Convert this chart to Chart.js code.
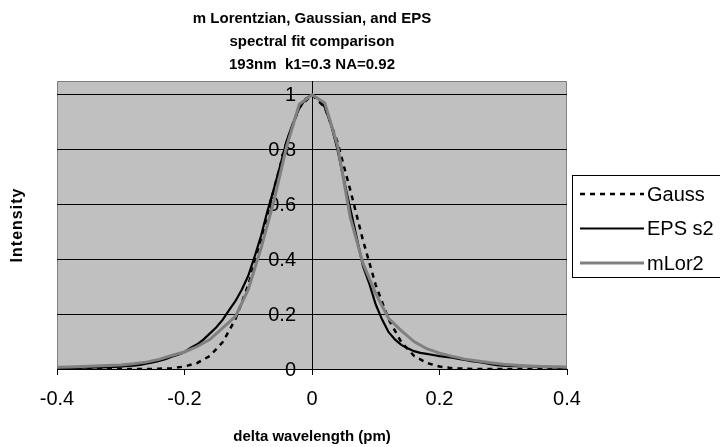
<!DOCTYPE html>
<html>
<head>
<meta charset="utf-8">
<script src="https://cdn.jsdelivr.net/npm/chart.js@4/dist/chart.umd.min.js"></script>
<style>
  html, body { margin: 0; padding: 0; background: #fff; }
  #wrap { width: 720px; height: 447px; position: relative; }
</style>
</head>
<body>
<div id="wrap"><canvas id="c" width="720" height="447"></canvas></div>
<script>
// ---- data ----
const titleLines = ["m Lorentzian, Gaussian, and EPS", "spectral fit comparison", "193nm  k1=0.3 NA=0.92"];
const xTitle = "delta wavelength (pm)";
const yTitle = "Intensity";
const seriesNames = ["Gauss", "EPS s2", "mLor2"];

const xFit = [-0.40,-0.38,-0.36,-0.34,-0.32,-0.30,-0.28,-0.26,-0.24,-0.22,-0.20,-0.18,-0.16,-0.14,-0.12,-0.10,-0.08,-0.06,-0.04,-0.02,0.00,
              0.02,0.04,0.06,0.08,0.10,0.12,0.14,0.16,0.18,0.20,0.22,0.24,0.26,0.28,0.30,0.32,0.34,0.36,0.38,0.40];
const gauss = [0,0,0,0,0,0,0,0,0.001,0.003,0.009,0.022,0.048,0.098,0.182,0.306,0.469,0.653,0.827,0.954,1.0,
               0.954,0.827,0.653,0.469,0.306,0.182,0.098,0.048,0.022,0.009,0.003,0.001,0,0,0,0,0,0,0,0];
const mLor2 = [0.006,0.007,0.009,0.011,0.013,0.015,0.019,0.025,0.035,0.049,0.062,0.082,0.108,0.150,0.192,0.290,0.440,0.610,0.810,0.965,1.0,
               0.970,0.815,0.553,0.385,0.275,0.185,0.140,0.100,0.074,0.058,0.046,0.036,0.029,0.023,0.017,0.014,0.011,0.009,0.008,0.007];

const xEps = [-0.40,-0.39,-0.38,-0.37,-0.36,-0.35,-0.34,-0.33,-0.32,-0.31,-0.30,-0.29,-0.28,-0.27,-0.26,-0.25,-0.24,-0.23,-0.22,-0.21,
              -0.20,-0.19,-0.18,-0.17,-0.16,-0.15,-0.14,-0.13,-0.12,-0.11,-0.10,-0.09,-0.08,-0.07,-0.06,-0.05,-0.04,-0.03,-0.02,-0.01,0.00,
              0.01,0.02,0.03,0.04,0.05,0.06,0.07,0.08,0.09,0.10,0.11,0.12,0.13,0.14,0.15,0.16,0.17,0.18,0.19,0.20,
              0.21,0.22,0.23,0.24,0.25,0.26,0.27,0.28,0.29,0.30,0.31,0.32,0.33,0.34,0.35,0.36,0.37,0.38,0.39,0.40];
const epsS2 = [0.003,0.003,0.004,0.004,0.005,0.005,0.006,0.006,0.007,0.008,0.009,0.011,0.012,0.015,0.019,0.024,0.029,0.036,0.045,0.052,
               0.062,0.078,0.090,0.108,0.130,0.152,0.180,0.215,0.248,0.290,0.340,0.410,0.485,0.575,0.655,0.740,0.830,0.895,0.950,0.985,1.0,
               0.985,0.955,0.890,0.800,0.690,0.585,0.480,0.375,0.310,0.235,0.180,0.135,0.108,0.088,0.076,0.065,0.059,0.055,0.051,0.047,
               0.044,0.041,0.037,0.033,0.029,0.026,0.022,0.018,0.014,0.012,0.011,0.010,0.010,0.010,0.009,0.008,0.007,0.006,0.006,0.005];

const xTicks = [-0.4, -0.2, 0, 0.2, 0.4];
const yTicks = [0, 0.2, 0.4, 0.6, 0.8, 1];

const FONT = "'Liberation Sans', Arial, sans-serif";
const pts = (xs, ys) => xs.map((x, i) => ({ x: x, y: ys[i] }));

const plotBg = {
  id: 'plotBg',
  beforeDraw(chart) {
    const { ctx, chartArea: a } = chart;
    ctx.save();
    ctx.fillStyle = '#C0C0C0';
    ctx.fillRect(a.left, a.top, a.right - a.left, a.bottom - a.top);
    ctx.strokeStyle = '#808080';
    ctx.lineWidth = 1;
    ctx.strokeRect(a.left + 0.5, a.top + 0.5, a.right - a.left - 1, a.bottom - a.top);
    ctx.restore();
  },
  beforeDatasetsDraw(chart) {
    // y tick labels next to the centred y axis
    const { ctx, scales } = chart;
    const ax = scales.x.getPixelForValue(0);
    ctx.save();
    ctx.font = "20px " + FONT;
    ctx.fillStyle = '#000';
    ctx.textAlign = 'right';
    ctx.textBaseline = 'middle';
    scales.y.ticks.forEach(t => {
      ctx.fillText(String(+t.value.toFixed(1)), ax - 16, scales.y.getPixelForValue(t.value) + 1);
    });
    ctx.restore();
  },
  afterDraw(chart) {
    const { ctx } = chart;
    ctx.save();
    // y axis title
    ctx.translate(18, 225);
    ctx.rotate(-Math.PI / 2);
    ctx.font = "bold 16px " + FONT;
    ctx.letterSpacing = '1px';
    ctx.fillStyle = '#000';
    ctx.textAlign = 'center';
    ctx.textBaseline = 'middle';
    ctx.fillText(yTitle, 0, 0);
    ctx.restore();

    // legend
    ctx.save();
    const lx = 572, ly = 175, lw = 160, lh = 102;
    ctx.fillStyle = '#fff';
    ctx.fillRect(lx, ly, lw, lh);
    ctx.strokeStyle = '#000';
    ctx.lineWidth = 1;
    ctx.strokeRect(lx + 0.5, ly + 0.5, lw, lh);
    chart.data.datasets.forEach((ds, i) => {
      const y = 194 + i * 34.5;
      ctx.strokeStyle = ds.borderColor;
      ctx.lineWidth = ds.borderWidth;
      ctx.setLineDash(ds.borderDash || []);
      ctx.beginPath();
      ctx.moveTo(580, y);
      ctx.lineTo(644, y);
      ctx.stroke();
      ctx.setLineDash([]);
      ctx.fillStyle = '#000';
      ctx.font = "20px " + FONT;
      ctx.textAlign = 'left';
      ctx.textBaseline = 'middle';
      ctx.fillText(ds.label, 647, y + 1);
    });
    ctx.restore();
  }
};

new Chart(document.getElementById('c'), {
  type: 'line',
  data: {
    datasets: [
      { label: seriesNames[0], data: pts(xFit, gauss), borderColor: '#000', borderWidth: 2.5, borderDash: [5, 5], pointRadius: 0, tension: 0, fill: false, order: 3 },
      { label: seriesNames[1], data: pts(xEps, epsS2), borderColor: '#000', borderWidth: 2.2, pointRadius: 0, tension: 0, fill: false, order: 2 },
      { label: seriesNames[2], data: pts(xFit, mLor2), borderColor: '#808080', borderWidth: 3, pointRadius: 0, tension: 0, fill: false, order: 1 }
    ]
  },
  options: {
    responsive: false,
    animation: false,
    devicePixelRatio: 1,
    layout: { padding: { left: 57, right: 153, top: 0, bottom: 0 } },
    plugins: {
      legend: { display: false },
      tooltip: { enabled: false },
      title: {
        display: true,
        text: titleLines,
        color: '#000',
        font: { family: FONT, size: 15, weight: 'bold', lineHeight: 23 / 15 },
        padding: { top: 7, bottom: 5 }
      }
    },
    scales: {
      x: {
        type: 'linear',
        min: -0.4, max: 0.4,
        afterBuildTicks: (s) => { s.ticks = xTicks.map(v => ({ value: v })); },
        ticks: {
          color: '#000',
          font: { family: FONT, size: 20 },
          padding: 12,
          maxRotation: 0,
          callback: (v) => String(+v.toFixed(1))
        },
        grid: { display: true, drawOnChartArea: false, drawTicks: true, tickLength: 6, color: '#000' },
        border: { display: true, color: '#000', width: 1 },
        title: {
          display: true, text: xTitle, color: '#000',
          font: { family: FONT, size: 15, weight: 'bold', lineHeight: 1.2 },
          padding: { top: 5, bottom: 1 }
        }
      },
      y: {
        type: 'linear',
        position: { x: 0 },
        min: 0, max: 1.05,
        afterBuildTicks: (s) => { s.ticks = yTicks.map(v => ({ value: v })); },
        ticks: { display: false },
        grid: { display: true, drawOnChartArea: true, drawTicks: false, color: '#000', lineWidth: 1 },
        border: { display: true, color: '#000', width: 1 }
      }
    }
  },
  plugins: [plotBg]
});
</script>
</body>
</html>
